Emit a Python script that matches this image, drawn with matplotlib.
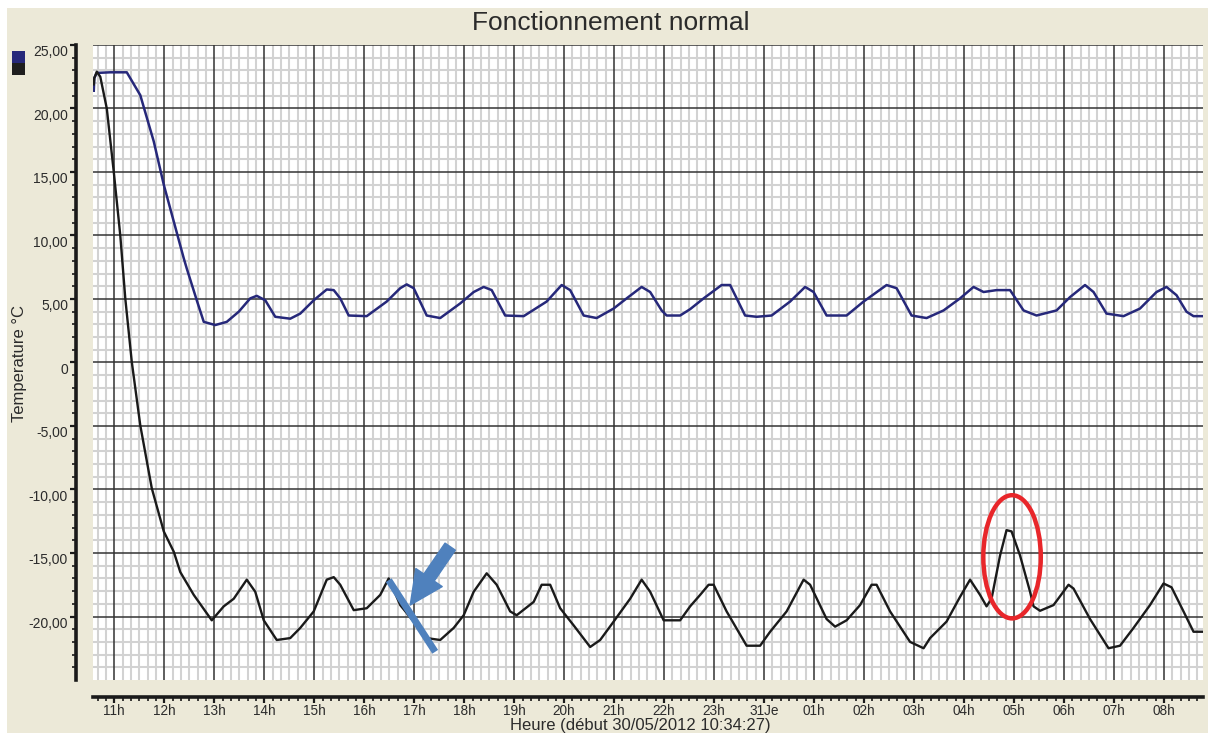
import matplotlib
matplotlib.use("Agg")
from matplotlib import pyplot as plt
from matplotlib.patches import Rectangle, Ellipse
from matplotlib.ticker import FixedLocator
from matplotlib.transforms import ScaledTranslation

plt.rcParams['font.family'] = ['Liberation Sans', 'DejaVu Sans']

# heures depuis minuit le 30/05 (24 = minuit du 31)
t_start = 10 + 34 / 60 + 27 / 3600
t_end = 32.78

blue_t = [10.59, 10.60, 10.65, 10.92, 11.25, 11.52, 11.79, 11.99, 12.19, 12.39,
          12.45, 12.65, 12.79, 13.02, 13.25, 13.49, 13.72, 13.85, 14.02, 14.22,
          14.52, 14.72, 14.99, 15.25, 15.39, 15.52, 15.69, 16.05, 16.45, 16.72,
          16.85, 16.99, 17.25, 17.52, 17.92, 18.19, 18.39, 18.55, 18.82, 19.19,
          19.65, 19.95, 20.12, 20.39, 20.65, 20.99, 21.25, 21.55, 21.72, 21.95,
          22.05, 22.32, 22.52, 22.79, 23.15, 23.32, 23.62, 23.85, 24.15, 24.52,
          24.82, 24.99, 25.25, 25.65, 25.99, 26.45, 26.65, 26.95, 27.25, 27.59,
          27.92, 28.19, 28.39, 28.65, 28.92, 29.19, 29.45, 29.85, 30.12, 30.42,
          30.59, 30.85, 31.19, 31.52, 31.85, 32.05, 32.25, 32.45, 32.59, 32.78]
blue_v = [21.4, 22.4, 22.8, 22.85, 22.85, 21.05, 17.4, 14.0, 11.1, 8.2,
          7.4, 4.9, 3.2, 2.95, 3.2, 4.0, 5.05, 5.25, 4.9, 3.6,
          3.45, 3.85, 4.9, 5.75, 5.7, 5.05, 3.7, 3.65, 4.8, 5.85,
          6.15, 5.85, 3.7, 3.5, 4.65, 5.55, 5.95, 5.7, 3.7, 3.65,
          4.8, 6.1, 5.7, 3.7, 3.5, 4.25, 5.05, 5.95, 5.55, 4.1,
          3.7, 3.7, 4.2, 5.05, 6.1, 6.1, 3.7, 3.6, 3.7, 4.8,
          5.95, 5.55, 3.7, 3.7, 4.8, 6.1, 5.85, 3.7, 3.5, 4.1,
          5.05, 5.95, 5.55, 5.7, 5.7, 4.1, 3.7, 4.1, 5.15, 6.1,
          5.55, 3.85, 3.65, 4.25, 5.55, 5.95, 5.3, 4.0, 3.65, 3.65]

black_t = [10.59, 10.60, 10.65, 10.72, 10.85, 10.99, 11.12, 11.22, 11.35, 11.52,
           11.75, 11.99, 12.19, 12.32, 12.59, 12.95, 13.19, 13.39, 13.65, 13.82,
           13.99, 14.25, 14.52, 14.72, 14.99, 15.25, 15.39, 15.52, 15.79, 16.05,
           16.32, 16.49, 16.72, 16.99, 17.25, 17.52, 17.79, 17.99, 18.19, 18.45,
           18.65, 18.92, 19.05, 19.39, 19.55, 19.72, 19.92, 20.19, 20.52, 20.72,
           20.99, 21.32, 21.55, 21.72, 21.99, 22.32, 22.52, 22.72, 22.89, 22.99,
           23.25, 23.65, 23.92, 24.12, 24.45, 24.79, 24.92, 25.25, 25.42, 25.65,
           25.92, 26.15, 26.25, 26.52, 26.92, 27.19, 27.32, 27.65, 27.92, 28.12,
           28.32, 28.45, 28.55, 28.72, 28.85, 28.95, 29.12, 29.32, 29.39, 29.52,
           29.79, 30.09, 30.19, 30.52, 30.89, 31.12, 31.39, 31.72, 31.99, 32.15,
           32.39, 32.59, 32.78]
black_v = [21.9, 22.4, 22.9, 22.5, 20.0, 15.0, 10.0, 5.05, 0.05, -4.95,
           -9.9, -13.3, -14.9, -16.5, -18.3, -20.3, -19.2, -18.6, -17.1, -18.05,
           -20.3, -21.85, -21.7, -20.9, -19.6, -17.1, -16.9, -17.5, -19.5, -19.35,
           -18.3, -17.0, -19.1, -20.4, -21.7, -21.85, -20.9, -19.9, -18.05, -16.6,
           -17.5, -19.6, -19.9, -18.85, -17.5, -17.5, -19.35, -20.7, -22.4, -21.85,
           -20.4, -18.6, -17.1, -18.05, -20.3, -20.3, -19.2, -18.3, -17.5, -17.5,
           -19.6, -22.3, -22.3, -21.2, -19.6, -17.1, -17.5, -20.2, -20.8, -20.3,
           -19.1, -17.5, -17.5, -19.6, -22.0, -22.5, -21.7, -20.4, -18.45, -17.1,
           -18.3, -19.2, -18.6, -15.2, -13.2, -13.3, -15.2, -18.05, -19.2, -19.55,
           -19.1, -17.5, -17.8, -20.2, -22.5, -22.3, -20.9, -19.1, -17.4, -17.7,
           -19.6, -21.2, -21.2]

hour_ticks = list(range(11, 33))
hour_labels = ['11h', '12h', '13h', '14h', '15h', '16h', '17h', '18h', '19h', '20h',
               '21h', '22h', '23h', '31Je', '01h', '02h', '03h', '04h', '05h', '06h',
               '07h', '08h']
temp_ticks = [25, 20, 15, 10, 5, 0, -5, -10, -15, -20]
temp_labels = ['25,00', '20,00', '15,00', '10,00', '5,00', '0', '-5,00', '-10,00',
               '-15,00', '-20,00']

W, H = 1208, 733
beige = '#ECE9D8'
navy = '#26287A'
txt = '#2b2b2b'

fig = plt.figure(figsize=(W / 100, H / 100), dpi=100)
fig.patches.append(Rectangle((7 / W, 0), 1 - 7 / W, 1 - 8 / H, transform=fig.transFigure,
                             facecolor=beige, edgecolor='none', zorder=-10))
# petits carres de legende
fig.patches.append(Rectangle((12 / W, 1 - 63 / H), 12.5 / W, 12 / H, transform=fig.transFigure,
                             facecolor=navy, edgecolor='none', zorder=-5))
fig.patches.append(Rectangle((12 / W, 1 - 75 / H), 12.5 / W, 12 / H, transform=fig.transFigure,
                             facecolor='#1e1e1e', edgecolor='none', zorder=-5))

ax = fig.add_axes([93 / W, 1 - 680 / H, 1110 / W, 635 / H])
ax.set_facecolor('white')

ax.plot(blue_t, blue_v, color=navy, lw=1.8, zorder=3)
ax.plot(black_t, black_v, color='#1a1a1a', lw=1.7, zorder=3)

ax.set_xlim(t_start, t_end)
ax.set_ylim(-25, 25)

# graduations mineures : toutes les 10 min en x, tous les 1 degre en y
x_minor = [h + k / 6 for h in range(10, 33) for k in range(1, 6)]
y_minor = [v for v in range(-25, 26) if v % 5 != 0]

ax.xaxis.set_major_locator(FixedLocator(hour_ticks))
ax.set_xticklabels(hour_labels)
ax.xaxis.set_minor_locator(FixedLocator(x_minor))
ax.set_yticks(temp_ticks)
ax.set_yticklabels(temp_labels)
ax.yaxis.set_minor_locator(FixedLocator(y_minor))

# grille fine en dessous, grille principale tracee a la main par-dessus
ax.grid(which='minor', color='#d2d2d2', lw=1.5)
ax.set_axisbelow(True)
for h in hour_ticks:
    ax.axvline(h, color='#333333', lw=1.1, zorder=1)
for v in temp_ticks:
    ax.axhline(v, color='#333333', lw=1.1, zorder=1)

for s in ['top', 'right']:
    ax.spines[s].set_visible(False)
ax.spines['left'].set_position(('outward', 12))
ax.spines['bottom'].set_position(('outward', 12))
ax.spines['left'].set_linewidth(2.6)
ax.spines['bottom'].set_linewidth(2.6)
ax.spines['left'].set_color('#1a1a1a')
ax.spines['bottom'].set_color('#1a1a1a')

ax.tick_params(which='major', direction='out', length=4, width=1.6, color='#1a1a1a',
               labelsize=10, labelcolor=txt)
ax.tick_params(which='minor', direction='out', length=3, width=1.2, color='#1a1a1a')
ax.tick_params(axis='x', which='major', pad=1, labelsize=9.8)
ax.tick_params(axis='y', which='major', pad=2)

# les libelles de l'axe Y sont un peu decales vers le bas dans l'original
shift = ScaledTranslation(0, -6 / 100, fig.dpi_scale_trans)
for lab in ax.get_yticklabels():
    lab.set_transform(lab.get_transform() + shift)

# annotations
ax.plot([16.49, 17.42], [-17.14, -22.78], color='#4F81BD', lw=5, solid_capstyle='butt', zorder=4)
ax.annotate('', xy=(16.92, -19.1), xytext=(17.72, -14.5),
            arrowprops=dict(arrowstyle='simple,head_length=1.2,head_width=1.15,tail_width=0.45',
                            color='#4F81BD', mutation_scale=20, shrinkA=0, shrinkB=0),
            zorder=4)
ax.add_patch(Ellipse((28.96, -15.3), 1.15, 9.7, fill=False, edgecolor='#E8262A', lw=3.2, zorder=4))

fig.text(611 / W, 1 - 22.5 / H, 'Fonctionnement normal', fontsize=19, color=txt,
         ha='center', va='center')
fig.text(20 / W, 1 - 364 / H, 'Temperature °C', fontsize=12, color=txt, rotation=90,
         ha='center', va='center')
fig.text(640 / W, 1 - 725.5 / H, 'Heure (début 30/05/2012 10:34:27)', fontsize=12, color=txt,
         ha='center', va='center')

fig.savefig('out.png', dpi=100)
